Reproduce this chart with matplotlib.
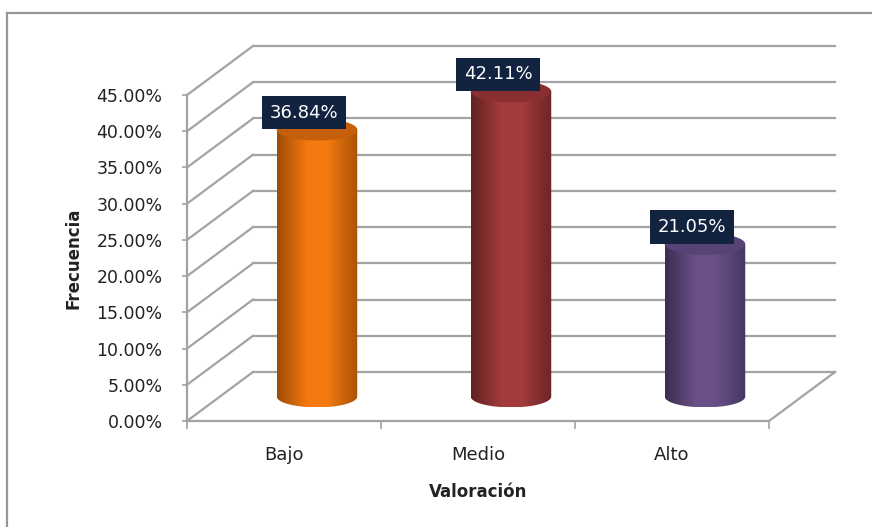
import numpy as np
import matplotlib
matplotlib.use('Agg')
import matplotlib.pyplot as plt
from matplotlib.patches import Polygon, Ellipse
from matplotlib.colors import LinearSegmentedColormap
from matplotlib.lines import Line2D

# datos
categorias = ['Bajo', 'Medio', 'Alto']
valores = [0.3684, 0.4211, 0.2105]
etiquetas = ['36.84%', '42.11%', '21.05%']
ticks_y = [0.0, 0.05, 0.10, 0.15, 0.20, 0.25, 0.30, 0.35, 0.40, 0.45]
ticks_txt = ['0.00%', '5.00%', '10.00%', '15.00%', '20.00%', '25.00%',
             '30.00%', '35.00%', '40.00%', '45.00%']

# colores de cada cilindro: borde izq, centro claro, borde der, tapa
colores = [('#9e4b05', '#f47a10', '#a85308', '#c55f0b'),
           ('#622022', '#a43b3c', '#6c2628', '#8a2f31'),
           ('#3a2d4e', '#6a5089', '#463762', '#574375')]

# profundidad del 3D en unidades de datos
DX = 0.34
DY = 0.0676
ANCHO = 0.415
ELIP = 0.030
GRIS = '#a3a3a3'
TEXTO = '#222222'

fig = plt.figure(figsize=(8.72, 5.27), dpi=100)
ax = fig.add_axes([187 / 872, 106 / 527, 582 / 872, 326 / 527])
ax.set_xlim(0, 3)
ax.set_ylim(0, 0.45)

# pared del fondo y pared izquierda
for t in ticks_y:
    ax.plot([DX, 3 + DX], [t + DY, t + DY], color=GRIS, lw=1.6, clip_on=False, zorder=1)
    ax.plot([0, DX], [t, t + DY], color=GRIS, lw=1.6, clip_on=False, zorder=1)
# piso: borde derecho
ax.plot([3, 3 + DX], [0, DY], color=GRIS, lw=1.6, clip_on=False, zorder=1)

# cilindros
for i, v in enumerate(valores):
    xc = i + 0.5 + DX / 2
    y0 = DY / 2
    y1 = y0 + v
    izq, claro, der, tapa = colores[i]
    cmap = LinearSegmentedColormap.from_list(
        'c%d' % i, [(0, izq), (0.38, claro), (0.62, claro), (1, der)])
    th = np.linspace(np.pi, 2 * np.pi, 80)
    pts = np.column_stack([xc + ANCHO / 2 * np.cos(th), y0 + ELIP / 2 * np.sin(th)])
    pts = np.vstack([pts, [[xc + ANCHO / 2, y1], [xc - ANCHO / 2, y1]]])
    cuerpo = Polygon(pts, closed=True, transform=ax.transData)
    grad = np.linspace(0, 1, 256).reshape(1, -1)
    im = ax.imshow(grad, cmap=cmap, extent=[xc - ANCHO / 2, xc + ANCHO / 2, y0 - ELIP / 2, y1],
                   aspect='auto', interpolation='bilinear', zorder=3)
    im.set_clip_box(fig.bbox)
    im.set_clip_path(cuerpo)
    ax.add_patch(Ellipse((xc, y1), ANCHO, ELIP, facecolor=tapa, edgecolor='none',
                         zorder=4, clip_on=False))
    ax.annotate(etiquetas[i], xy=(xc, y1), xytext=(-13, 17), textcoords='offset pixels',
                ha='center', va='center', color='white', fontsize=13, zorder=6,
                annotation_clip=False,
                bbox=dict(boxstyle='square,pad=0.42', fc='#12233f', ec='none'))

ax.set_xlim(0, 3)
ax.set_ylim(0, 0.45)

# ejes
for s in ['top', 'right']:
    ax.spines[s].set_visible(False)
for s in ['left', 'bottom']:
    ax.spines[s].set_color(GRIS)
    ax.spines[s].set_linewidth(1.6)
    ax.spines[s].set_zorder(2)

ax.set_yticks(ticks_y)
ax.set_yticklabels(ticks_txt)
ax.tick_params(axis='y', length=3.6, width=1.2, color=GRIS, pad=14, labelsize=12.5, labelcolor=TEXTO)
ax.set_xticks([0.5, 1.5, 2.5])
ax.set_xticklabels(categorias)
ax.set_xticks([0, 1, 2, 3], minor=True)
ax.tick_params(axis='x', which='major', length=0, pad=18, labelsize=13, labelcolor=TEXTO)
ax.tick_params(axis='x', which='minor', length=6, width=1.2, color=GRIS)

ax.set_xlabel('Valoración', fontsize=12, fontweight='bold', color=TEXTO, labelpad=14)
ax.set_ylabel('Frecuencia', fontsize=12, fontweight='bold', color=TEXTO, labelpad=10)
ax.patch.set_visible(False)

# marco del gráfico
fig.add_artist(Line2D([7 / 872, 7 / 872], [0, 1 - 13 / 527], transform=fig.transFigure,
                      color='#969696', lw=1.6))
fig.add_artist(Line2D([7 / 872, 1], [1 - 13 / 527, 1 - 13 / 527], transform=fig.transFigure,
                      color='#969696', lw=1.6))

fig.savefig('out.png', dpi=100)
